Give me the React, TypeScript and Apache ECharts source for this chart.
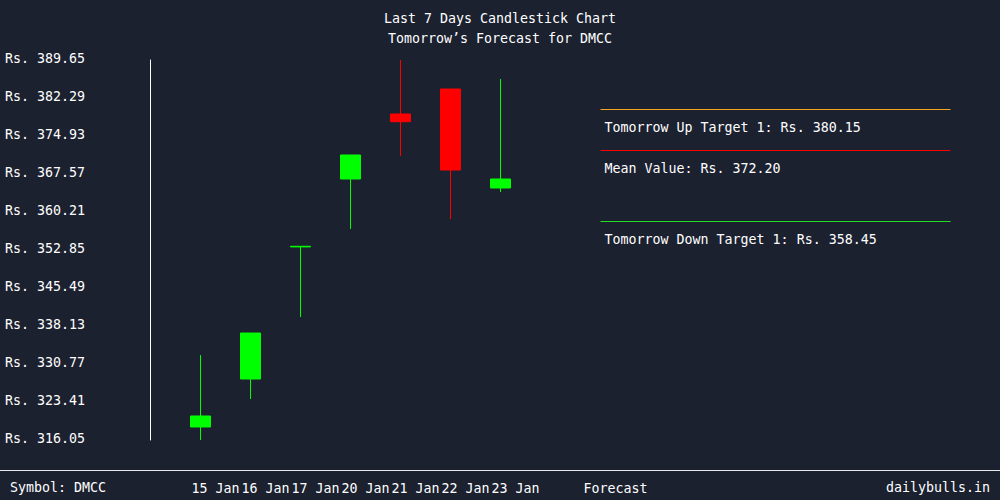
import React, { useEffect, useRef } from "react";
import * as echarts from "echarts";

const dates = ["15 Jan", "16 Jan", "17 Jan", "20 Jan", "21 Jan", "22 Jan", "23 Jan"];
const opens = [318.57, 327.86, 353.45, 366.6, 379.19, 384.03, 364.86];
const closes = [320.7, 336.77, 353.57, 371.25, 377.7, 368.34, 366.6];
const lows = [316.05, 323.99, 339.87, 356.92, 371.06, 358.85, 364.08];
const highs = [332.51, 336.77, 353.57, 371.25, 389.65, 384.03, 385.97];

const forecastTitles = ["Tomorrow Up Target 1", "Mean Value", "Tomorrow Down Target 1"];
const forecastValues = [380.15, 372.2, 358.45];
const forecastColors = ["#f5a623", "#ff0000", "#22dd22"];

const yTicks = [316.05, 323.41, 330.77, 338.13, 345.49, 352.85, 360.21, 367.57, 374.93, 382.29, 389.65];

const FONT = "DejaVu Sans Mono";
const FS = 13.3;
const BG = "#1c2130";

const categories = ["", ...dates, "", "Forecast", "", "", "", "", "", "", ""];
const forecastStart = dates.length + 2;
const forecastEnd = categories.length - 1;

export default function App() {
  const ref = useRef<HTMLDivElement>(null);
  useEffect(() => {
    if (!ref.current) return;
    const chart = echarts.init(ref.current, undefined, { renderer: "svg" });
    const candleData: any[] = categories.map(() => "-");
    dates.forEach((_, i) => {
      candleData[i + 1] = [opens[i], closes[i], lows[i], highs[i]];
    });
    const markData = forecastValues.map((v, i) => [
      {
        coord: [forecastStart, v],
        lineStyle: { color: forecastColors[i], width: 1, type: "solid" },
        label: { formatter: `${forecastTitles[i]}: Rs. ${v.toFixed(2)}` },
      },
      { coord: [forecastEnd, v] },
    ]);
    chart.setOption({
      animation: false,
      backgroundColor: BG,
      title: {
        text: "Last 7 Days Candlestick Chart",
        subtext: "Tomorrow’s Forecast for DMCC",
        left: "center",
        top: 10,
        itemGap: 4,
        padding: 0,
        textStyle: {
          color: "#ffffff",
          fontFamily: FONT,
          fontSize: FS,
          fontWeight: "normal",
          lineHeight: 16,
        },
        subtextStyle: {
          color: "#ffffff",
          fontFamily: FONT,
          fontSize: FS,
          lineHeight: 16,
        },
      },
      grid: { left: 150.5, right: 49.5, top: 60, bottom: 60 },
      xAxis: {
        type: "category",
        data: categories,
        boundaryGap: false,
        axisLine: { show: false },
        axisTick: { show: false },
        splitLine: { show: false },
        axisLabel: {
          interval: 0,
          color: "#ffffff",
          fontFamily: FONT,
          fontSize: FS,
          margin: 42,
          padding: [0, 0, 0, 30],
        },
      },
      yAxis: {
        type: "value",
        min: yTicks[0],
        max: yTicks[yTicks.length - 1],
        interval: 7.36,
        axisLine: { show: true, lineStyle: { color: "#ffffff", width: 1 } },
        axisTick: { show: false },
        splitLine: { show: false },
        axisLabel: {
          color: "#ffffff",
          fontFamily: FONT,
          fontSize: FS,
          align: "left",
          margin: 145.5,
          verticalAlign: "bottom",
          lineHeight: 4,
          formatter: (v: number) => `Rs. ${v.toFixed(2)}`,
        },
      },
      series: [
        {
          type: "candlestick",
          data: candleData,
          barWidth: 21,
          itemStyle: {
            color: "#00ff00",
            color0: "#ff0000",
            borderColor: "#00ff00",
            borderColor0: "#ff0000",
            borderWidth: 1,
          },
          markLine: {
            silent: true,
            symbol: "none",
            label: {
              show: true,
              position: "insideStartBottom",
              distance: [4, 12],
              color: "#ffffff",
              fontFamily: FONT,
              fontSize: FS,
            },
            data: markData,
          },
        },
      ],
      graphic: [
        {
          type: "line",
          shape: { x1: 0, y1: 470.5, x2: 1000, y2: 470.5 },
          style: { stroke: "#e8e8e8", lineWidth: 1 },
        },
        {
          type: "text",
          left: 10,
          top: 481,
          style: { text: "Symbol: DMCC", fill: "#ffffff", font: `${FS}px "${FONT}"` },
        },
        {
          type: "text",
          right: 10,
          top: 481,
          style: { text: "dailybulls.in", fill: "#ffffff", font: `${FS}px "${FONT}"` },
        },
      ],
    });
    return () => chart.dispose();
  }, []);
  return <div ref={ref} style={{ width: 1000, height: 500, position: "absolute", left: 0, top: 0 }} />;
}
